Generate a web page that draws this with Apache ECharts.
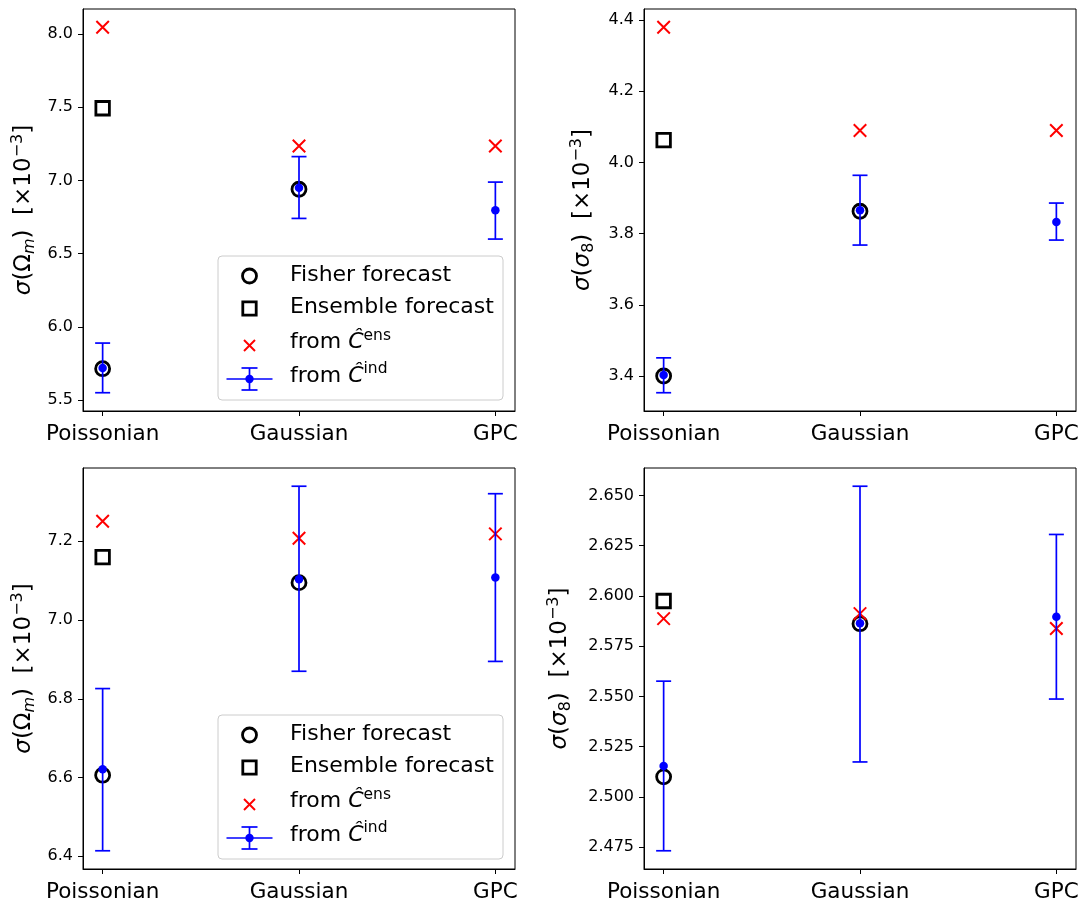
<!DOCTYPE html>
<html>
<head>
<meta charset="utf-8">
<script src="https://cdn.jsdelivr.net/npm/echarts@6/dist/echarts.min.js"></script>
<style>
html, body { margin: 0; padding: 0; background: #fff; }
#main { width: 1084px; height: 903px; }
</style>
</head>
<body>
<div id="main"></div>
<script>
var categories = ['Poissonian', 'Gaussian', 'GPC'];

// top left: sigma(Omega_m)
var omTop_fisher = [5.715, 6.94, null];
var omTop_ensemble = [7.493, null, null];
var omTop_fromEns = [8.046, 7.235, 7.235];
var omTop_fromInd = [5.72, 6.95, 6.796];
var omTop_indLow = [5.551, 6.741, 6.60];
var omTop_indHigh = [5.89, 7.163, 6.989];
var omTop_ticks = [5.5, 6.0, 6.5, 7.0, 7.5, 8.0];

// top right: sigma(sigma_8)
var s8Top_fisher = [3.40, 3.863, null];
var s8Top_ensemble = [4.063, null, null];
var s8Top_fromEns = [4.38, 4.09, 4.09];
var s8Top_fromInd = [3.403, 3.866, 3.833];
var s8Top_indLow = [3.353, 3.768, 3.782];
var s8Top_indHigh = [3.451, 3.964, 3.886];
var s8Top_ticks = [3.4, 3.6, 3.8, 4.0, 4.2, 4.4];

// bottom left: sigma(Omega_m)
var omBot_fisher = [6.606, 7.095, null];
var omBot_ensemble = [7.160, null, null];
var omBot_fromEns = [7.251, 7.208, 7.219];
var omBot_fromInd = [6.621, 7.104, 7.108];
var omBot_indLow = [6.414, 6.870, 6.895];
var omBot_indHigh = [6.826, 7.340, 7.321];
var omBot_ticks = [6.4, 6.6, 6.8, 7.0, 7.2];

// bottom right: sigma(sigma_8)
var s8Bot_fisher = [2.510, 2.5862, null];
var s8Bot_ensemble = [2.5975, null, null];
var s8Bot_fromEns = [2.5887, 2.5912, 2.5838];
var s8Bot_fromInd = [2.5154, 2.5864, 2.5896];
var s8Bot_indLow = [2.4732, 2.5174, 2.5487];
var s8Bot_indHigh = [2.5576, 2.6546, 2.6306];
var s8Bot_ticks = [2.475, 2.500, 2.525, 2.550, 2.575, 2.600, 2.625, 2.650];

var FONT = 'DejaVu Sans';
var BLUE = '#0000ff';
var RED = '#ff0000';

function pairs(arr) {
  var out = [];
  arr.forEach(function (v, k) { if (v !== null) out.push([k, v]); });
  return out;
}

function nameRich() {
  var base = { fontSize: 23, fontFamily: FONT, color: '#000', verticalAlign: 'middle' };
  return {
    t: base,
    i: Object.assign({}, base, { fontStyle: 'italic' }),
    sb: Object.assign({}, base, { fontSize: 16, padding: [10, 0, 0, 0] }),
    sbi: Object.assign({}, base, { fontSize: 16, fontStyle: 'italic', padding: [10, 0, 0, 0] }),
    sp: Object.assign({}, base, { fontSize: 16, padding: [0, 0, 13, 0] })
  };
}

var grids = [], xAxes = [], yAxes = [], series = [];

function panel(i, box, d, ticks, digits, name, nameGap) {
  grids.push({ left: box[0], top: box[1], width: box[2], height: box[3], show: true, borderColor: '#000', borderWidth: 1, containLabel: false });
  var all = d.fromEns.concat(d.fromInd, d.low, d.high, d.fisher, d.ensemble).filter(function (v) { return v !== null; });
  var lo = Math.min.apply(null, all), hi = Math.max.apply(null, all);
  var pad = (hi - lo) * 0.05;
  xAxes.push({
    gridIndex: i, type: 'value', min: -0.1, max: 2.1,
    splitLine: { show: false },
    axisLine: { show: true, onZero: false, lineStyle: { color: '#000', width: 1 } },
    axisTick: { show: true, customValues: [0, 1, 2], length: 5, lineStyle: { color: '#000' } },
    axisLabel: {
      customValues: [0, 1, 2], margin: 12, fontSize: 21.5, fontFamily: FONT, color: '#000',
      formatter: function (v) { return categories[Math.round(v)]; }
    }
  });
  yAxes.push({
    gridIndex: i, type: 'value', min: lo - pad, max: hi + pad,
    splitLine: { show: false },
    axisLine: { show: true, onZero: false, lineStyle: { color: '#000', width: 1 } },
    axisTick: { show: true, customValues: ticks, length: 5, lineStyle: { color: '#000' } },
    axisLabel: {
      customValues: ticks, margin: 10, fontSize: 16, fontFamily: FONT, color: '#000',
      formatter: function (v) { return v.toFixed(digits); }
    },
    name: name, nameLocation: 'middle', nameRotate: 90, nameGap: nameGap,
    nameTextStyle: { fontSize: 23, fontFamily: FONT, color: '#000', rich: nameRich() }
  });
  var common = { xAxisIndex: i, yAxisIndex: i, silent: true, animation: false };
  series.push(Object.assign({
    type: 'scatter', name: 'Fisher forecast', data: pairs(d.fisher), z: 2,
    symbol: 'circle', symbolSize: 14,
    itemStyle: { color: 'transparent', borderColor: '#000', borderWidth: 2.8, opacity: 1 }
  }, common));
  series.push(Object.assign({
    type: 'scatter', name: 'Ensemble forecast', data: pairs(d.ensemble), z: 2,
    symbol: 'rect', symbolSize: 13.5,
    itemStyle: { color: 'transparent', borderColor: '#000', borderWidth: 2.8, opacity: 1 }
  }, common));
  series.push(Object.assign({
    type: 'scatter', name: 'from C ens', data: pairs(d.fromEns), z: 3,
    symbol: 'path://M0,0L10,10M0,10L10,0', symbolSize: 12.5,
    itemStyle: { color: 'transparent', borderColor: RED, borderWidth: 2, opacity: 1 }
  }, common));
  series.push(Object.assign({
    type: 'custom', name: 'from C ind', z: 4,
    data: d.low.map(function (v, k) { return [k, v, d.high[k]]; }),
    encode: { x: 0, y: [1, 2] },
    renderItem: function (params, api) {
      var x = api.value(0);
      var a = api.coord([x, api.value(1)]);
      var b = api.coord([x, api.value(2)]);
      var w = 7.5;
      var st = { stroke: BLUE, lineWidth: 1.7 };
      return {
        type: 'group', children: [
          { type: 'line', shape: { x1: a[0], y1: a[1], x2: b[0], y2: b[1] }, style: st },
          { type: 'line', shape: { x1: a[0] - w, y1: a[1], x2: a[0] + w, y2: a[1] }, style: st },
          { type: 'line', shape: { x1: b[0] - w, y1: b[1], x2: b[0] + w, y2: b[1] }, style: st }
        ]
      };
    }
  }, common));
  series.push(Object.assign({
    type: 'scatter', name: 'from C ind dot', data: pairs(d.fromInd), z: 5,
    symbol: 'circle', symbolSize: 8.5,
    itemStyle: { color: BLUE, opacity: 1 }
  }, common));
}

var omName = '{i|σ}{t|(Ω}{sbi|m}{t|)  [×10}{sp|−3}{t|]}';
var s8Name = '{i|σ}{t|(}{i|σ}{sb|8}{t|)  [×10}{sp|−3}{t|]}';

panel(0, [83, 9, 432, 402],
  { fisher: omTop_fisher, ensemble: omTop_ensemble, fromEns: omTop_fromEns, fromInd: omTop_fromInd, low: omTop_indLow, high: omTop_indHigh },
  omTop_ticks, 1, omName, 44);
panel(1, [644, 9, 432, 402],
  { fisher: s8Top_fisher, ensemble: s8Top_ensemble, fromEns: s8Top_fromEns, fromInd: s8Top_fromInd, low: s8Top_indLow, high: s8Top_indHigh },
  s8Top_ticks, 1, s8Name, 46);
panel(2, [83, 468, 432, 403],
  { fisher: omBot_fisher, ensemble: omBot_ensemble, fromEns: omBot_fromEns, fromInd: omBot_fromInd, low: omBot_indLow, high: omBot_indHigh },
  omBot_ticks, 1, omName, 44);
panel(3, [644, 468, 432, 403],
  { fisher: s8Bot_fisher, ensemble: s8Bot_ensemble, fromEns: s8Bot_fromEns, fromInd: s8Bot_fromInd, low: s8Bot_indLow, high: s8Bot_indHigh },
  s8Bot_ticks, 3, s8Name, 69);

// legend box, drawn like the matplotlib one
function legendGroup(x, y) {
  var rows = [20, 52.5, 89.5, 123];
  var ix = 31.5, tx = 72;
  var txt = function (s, yy, rich) {
    var st = { text: s, x: tx, y: yy, fill: '#000', font: '22px "DejaVu Sans"', verticalAlign: 'middle', align: 'left' };
    if (rich) st.rich = rich;
    return { type: 'text', style: st };
  };
  var hatRich = {
    c: { fontStyle: 'italic', fontSize: 22, fontFamily: FONT, verticalAlign: 'middle' },
    s: { fontSize: 15.5, fontFamily: FONT, verticalAlign: 'middle', padding: [0, 0, 14, 0] }
  };
  var bl = { stroke: BLUE, lineWidth: 1.7 };
  return {
    type: 'group', x: x, y: y, z: 100, silent: true,
    children: [
      { type: 'rect', shape: { x: 0, y: 0, width: 285, height: 144, r: 4 }, style: { fill: 'rgba(255,255,255,0.8)', stroke: '#cccccc', lineWidth: 1 } },
      { type: 'circle', shape: { cx: ix, cy: rows[0], r: 7 }, style: { fill: 'transparent', stroke: '#000', lineWidth: 2.8 } },
      { type: 'rect', shape: { x: ix - 6.7, y: rows[1] - 6.7, width: 13.4, height: 13.4 }, style: { fill: 'transparent', stroke: '#000', lineWidth: 2.8 } },
      { type: 'line', shape: { x1: ix - 5.5, y1: rows[2] - 5.5, x2: ix + 5.5, y2: rows[2] + 5.5 }, style: { stroke: RED, lineWidth: 2 } },
      { type: 'line', shape: { x1: ix - 5.5, y1: rows[2] + 5.5, x2: ix + 5.5, y2: rows[2] - 5.5 }, style: { stroke: RED, lineWidth: 2 } },
      { type: 'line', shape: { x1: ix - 23, y1: rows[3], x2: ix + 23, y2: rows[3] }, style: bl },
      { type: 'line', shape: { x1: ix, y1: rows[3] - 11, x2: ix, y2: rows[3] + 11 }, style: bl },
      { type: 'line', shape: { x1: ix - 8, y1: rows[3] - 11, x2: ix + 8, y2: rows[3] - 11 }, style: bl },
      { type: 'line', shape: { x1: ix - 8, y1: rows[3] + 11, x2: ix + 8, y2: rows[3] + 11 }, style: bl },
      { type: 'circle', shape: { cx: ix, cy: rows[3], r: 4.2 }, style: { fill: BLUE } },
      txt('Fisher forecast', rows[0] - 1),
      txt('Ensemble forecast', rows[1] - 1),
      txt('from {c|Ĉ}{s|ens}', rows[2] - 3, hatRich),
      txt('from {c|Ĉ}{s|ind}', rows[3] - 3, hatRich)
    ]
  };
}

var myChart = echarts.init(document.getElementById('main'), null, { renderer: 'canvas' });
myChart.setOption({
  animation: false,
  backgroundColor: '#fff',
  grid: grids,
  xAxis: xAxes,
  yAxis: yAxes,
  series: series,
  graphic: [legendGroup(218, 256), legendGroup(218, 715)]
});
</script>
</body>
</html>
